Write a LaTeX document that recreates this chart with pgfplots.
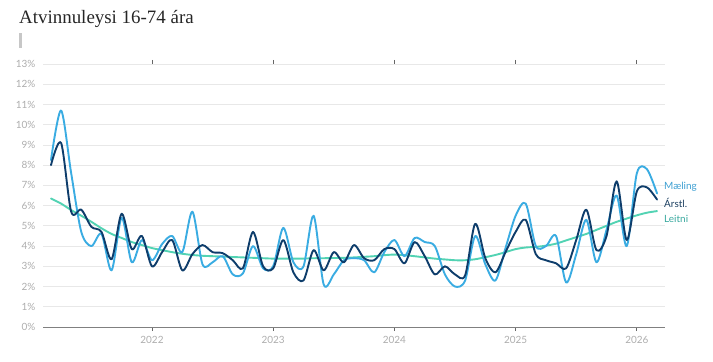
\documentclass[border=0pt]{standalone}
\usepackage{pgfplots}
\pgfplotsset{compat=1.18}
\usepackage{pgfplotstable}
\usepackage{fontspec}
\setmainfont{Lato}
\newfontfamily\titlefont{Liberation Serif}
\definecolor{cMael}{HTML}{3AACE2}
\definecolor{cArs}{HTML}{0E3D6B}
\definecolor{cLeit}{HTML}{52D3B3}
\definecolor{tMael}{HTML}{3D9FD2}
\definecolor{tArs}{HTML}{1C3F60}
\definecolor{tLeit}{HTML}{38A89E}
\definecolor{tickgray}{HTML}{ADADAD}
\definecolor{gridgray}{HTML}{E8E8E8}
\pgfplotstableread{
t m a l
2 8.25 8.0 6.35
3 10.7 9.1 6.1
4 7.6 5.7 5.78
5 4.7 5.8 5.5
6 4.0 4.95 5.2
7 4.6 4.7 4.88
8 2.8 3.35 4.6
9 5.4 5.6 4.4
10 3.2 3.85 4.2
11 4.3 4.5 4.05
12 3.3 3.0 3.9
13 4.1 3.7 3.8
14 4.5 4.3 3.7
15 3.7 2.8 3.62
16 5.7 3.6 3.56
17 3.1 4.05 3.52
18 3.2 3.7 3.5
19 3.5 3.65 3.48
20 2.6 3.3 3.46
21 2.65 2.9 3.44
22 4.0 4.7 3.42
23 2.9 3.0 3.4
24 3.0 2.9 3.38
25 4.9 4.3 3.38
26 3.2 2.7 3.38
27 3.0 2.3 3.38
28 5.5 3.8 3.4
29 2.1 2.8 3.4
30 2.6 3.7 3.41
31 3.3 3.2 3.42
32 3.4 4.05 3.44
33 3.3 3.4 3.47
34 2.7 3.3 3.5
35 3.7 3.85 3.55
36 4.3 3.85 3.58
37 3.5 3.15 3.55
38 4.4 4.2 3.5
39 4.2 3.5 3.44
40 4.0 2.6 3.38
41 2.6 3.0 3.34
42 2.0 2.6 3.3
43 2.3 2.55 3.3
44 4.5 5.1 3.35
45 3.1 3.4 3.45
46 2.3 2.7 3.56
47 3.9 3.7 3.7
48 5.5 4.7 3.85
49 6.1 5.3 3.93
50 4.0 3.6 3.96
51 4.0 3.3 4.02
52 4.5 3.15 4.12
53 2.2 2.9 4.28
54 3.6 4.3 4.44
55 5.3 5.8 4.6
56 3.2 3.8 4.8
57 4.8 4.5 5.0
58 6.5 7.2 5.2
59 4.0 4.3 5.36
60 7.6 6.7 5.52
61 7.8 6.9 5.65
62 6.6 6.3 5.73
}\datatable
\begin{document}
\begin{tikzpicture}[x=1bp,y=1bp]
\path[use as bounding box] (0,0) rectangle (713,361);
\node[anchor=base west, inner sep=0pt, font=\titlefont\fontsize{19}{22}\selectfont, text=black!85] at (19,338) {Atvinnuleysi 16-74 ára};
\fill[black!22] (19,313) rectangle (21.5,328);
\begin{axis}[
  at={(43bp,34bp)}, anchor=south west,
  scale only axis, width=622bp, height=263bp,
  xmin=1.21, xmax=62.79, ymin=0, ymax=13,
  xtick={12,24,36,48,60},
  xticklabels={2022,2023,2024,2025,2026},
  ytick={0,1,...,13},
  yticklabel={\pgfmathprintnumber{\tick}\%},
  /pgf/number format/assume math mode=true,
  ymajorgrids, grid style={gridgray, line width=0.8bp},
  axis line style={draw=none},
  extra y ticks={0}, extra y tick labels={},
  extra y tick style={grid style={black!50, line width=1bp}},
  tick align=outside,
  major tick length=4bp,
  xtick style={draw=black!60, line width=0.9bp},
  ytick style={draw=none},
  ticklabel style={font=\fontsize{10}{12}\selectfont, text=tickgray},
  yticklabel style={xshift=0bp},
  xticklabel style={yshift=-2bp},
  clip=false,
  every axis plot/.append style={smooth, tension=0.5, line width=1.9bp, line join=round, line cap=round},
]
\addplot[cLeit] table[x=t, y=l] {\datatable};
\addplot[cMael] table[x=t, y=m] {\datatable};
\addplot[cArs] table[x=t, y=a] {\datatable};
\end{axis}
\node[anchor=west, inner sep=0pt, font=\fontsize{10}{12}\selectfont, text=tMael] at (664,174) {Mæling};
\node[anchor=west, inner sep=0pt, font=\fontsize{10}{12}\selectfont, text=tArs] at (664,158) {Árstl.};
\node[anchor=west, inner sep=0pt, font=\fontsize{10}{12}\selectfont, text=tLeit] at (664,142) {Leitni};
\end{tikzpicture}
\end{document}
